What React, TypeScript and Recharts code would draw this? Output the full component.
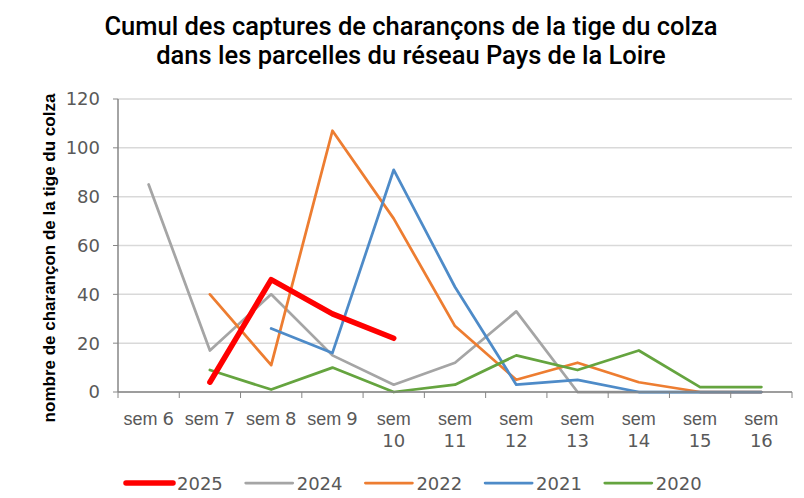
import { LineChart, Line, XAxis, YAxis, CartesianGrid } from 'recharts';

const weeks = ['sem 6', 'sem 7', 'sem 8', 'sem 9', 'sem 10', 'sem 11', 'sem 12', 'sem 13', 'sem 14', 'sem 15', 'sem 16'];

const s2025 = [null, 4, 46, 32, 22, null, null, null, null, null, null];
const s2024 = [85, 17, 40, 15, 3, 12, 33, 0, 0, 0, 0];
const s2022 = [null, 40, 11, 107, 71, 27, 5, 12, 4, 0, 0];
const s2021 = [null, null, 26, 16, 91, 43, 3, 5, 0, 0, 0];
const s2020 = [null, 9, 1, 10, 0, 3, 15, 9, 17, 2, 2];

const yTicks = [0, 20, 40, 60, 80, 100, 120];

// legend order
const series = [
  { key: 'y2025', name: '2025', color: '#FF0000', width: 5.5 },
  { key: 'y2024', name: '2024', color: '#A5A5A5', width: 2.75 },
  { key: 'y2022', name: '2022', color: '#ED7D31', width: 2.75 },
  { key: 'y2021', name: '2021', color: '#4E8BC8', width: 2.75 },
  { key: 'y2020', name: '2020', color: '#65A43F', width: 2.75 },
];

// draw order (red on top)
const drawOrder = ['y2024', 'y2022', 'y2021', 'y2020', 'y2025'];

const data = weeks.map((week, i) => ({
  week,
  y2025: s2025[i],
  y2024: s2024[i],
  y2022: s2022[i],
  y2021: s2021[i],
  y2020: s2020[i],
}));

const W = 804;
const H = 498;
const LEFT = 118;
const RIGHT = 12;
const TOP = 99;
const XAXIS_H = 106;
const BAND = (W - LEFT - RIGHT) / weeks.length;
const FONT = '"Liberation Sans", Arial, sans-serif';
const DIGITS = '"DejaVu Sans", sans-serif';
const TICK_COLOR = '#595959';
const AXIS_COLOR = '#868686';

function XTick(props: any) {
  const { x, y, payload, index } = props;
  const [word, num] = String(payload.value).split(' ');
  const wrap = num.length > 1;
  const left = x - BAND / 2;
  return (
    <g>
      <line x1={left} y1={y} x2={left} y2={y + 6} stroke={AXIS_COLOR} />
      {index === weeks.length - 1 && (
        <line x1={x + BAND / 2} y1={y} x2={x + BAND / 2} y2={y + 6} stroke={AXIS_COLOR} />
      )}
      {wrap ? (
        <>
          <text x={x} y={y + 33} textAnchor="middle" fill={TICK_COLOR} fontSize={18} fontFamily={FONT}>
            {word}
          </text>
          <text x={x} y={y + 55} textAnchor="middle" fill={TICK_COLOR} fontSize={18} fontFamily={DIGITS}>
            {num}
          </text>
        </>
      ) : (
        <text x={x} y={y + 33} textAnchor="middle" fill={TICK_COLOR} fontSize={18} fontFamily={FONT}>
          {word + ' '}
          <tspan fontFamily={DIGITS}>{num}</tspan>
        </text>
      )}
    </g>
  );
}

export default function App() {
  return (
    <div style={{ position: 'absolute', left: 0, top: 0, width: W, height: H, background: '#fff' }}>
      <LineChart width={W} height={H} data={data} margin={{ top: TOP, right: RIGHT, bottom: 0, left: 0 }}>
        <CartesianGrid vertical={false} stroke="#d9d9d9" strokeWidth={1.5} />
        <XAxis
          dataKey="week"
          scale="band"
          interval={0}
          height={XAXIS_H}
          tickLine={false}
          tickSize={0}
          tickMargin={0}
          axisLine={{ stroke: AXIS_COLOR, strokeWidth: 1.5 }}
          tick={<XTick />}
        />
        <YAxis
          width={LEFT}
          domain={[0, 120]}
          ticks={yTicks}
          tickSize={5}
          tickMargin={13}
          axisLine={{ stroke: AXIS_COLOR, strokeWidth: 1.5 }}
          tickLine={{ stroke: AXIS_COLOR }}
          tick={{ fill: TICK_COLOR, fontSize: 18, fontFamily: DIGITS }}
        />
        {drawOrder.map((k) => {
          const s = series.find((d) => d.key === k)!;
          return (
            <Line
              key={k}
              type="linear"
              dataKey={k}
              name={s.name}
              stroke={s.color}
              strokeWidth={s.width}
              strokeLinecap="round"
              strokeLinejoin="round"
              dot={false}
              activeDot={false}
              isAnimationActive={false}
            />
          );
        })}
      </LineChart>
      <svg width={W} height={H} style={{ position: 'absolute', left: 0, top: 0, pointerEvents: 'none' }}>
        <text x={411} y={35} textAnchor="middle" fontSize={25.5} fontWeight={500} fontFamily="Roboto, sans-serif" fill="#000">
          Cumul des captures de charançons de la tige du colza
        </text>
        <text x={411} y={64} textAnchor="middle" fontSize={25.5} fontWeight={500} fontFamily="Roboto, sans-serif" fill="#000">
          dans les parcelles du réseau Pays de la Loire
        </text>
        <text
          x={55}
          y={258}
          transform="rotate(-90 55 258)"
          textAnchor="middle"
          fontSize={17}
          fontWeight="bold"
          fontFamily={FONT}
          fill="#000"
        >
          nombre de charançon de la tige du colza
        </text>
        {series.map((s, i) => {
          const x0 = 126 + i * 119.7;
          return (
            <g key={s.key}>
              <line x1={x0} y1={483} x2={x0 + 47} y2={483} stroke={s.color} strokeWidth={s.width} strokeLinecap="round" />
              <text x={x0 + 51} y={490} fontSize={18} fontFamily={DIGITS} fill={TICK_COLOR}>
                {s.name}
              </text>
            </g>
          );
        })}
      </svg>
    </div>
  );
}
